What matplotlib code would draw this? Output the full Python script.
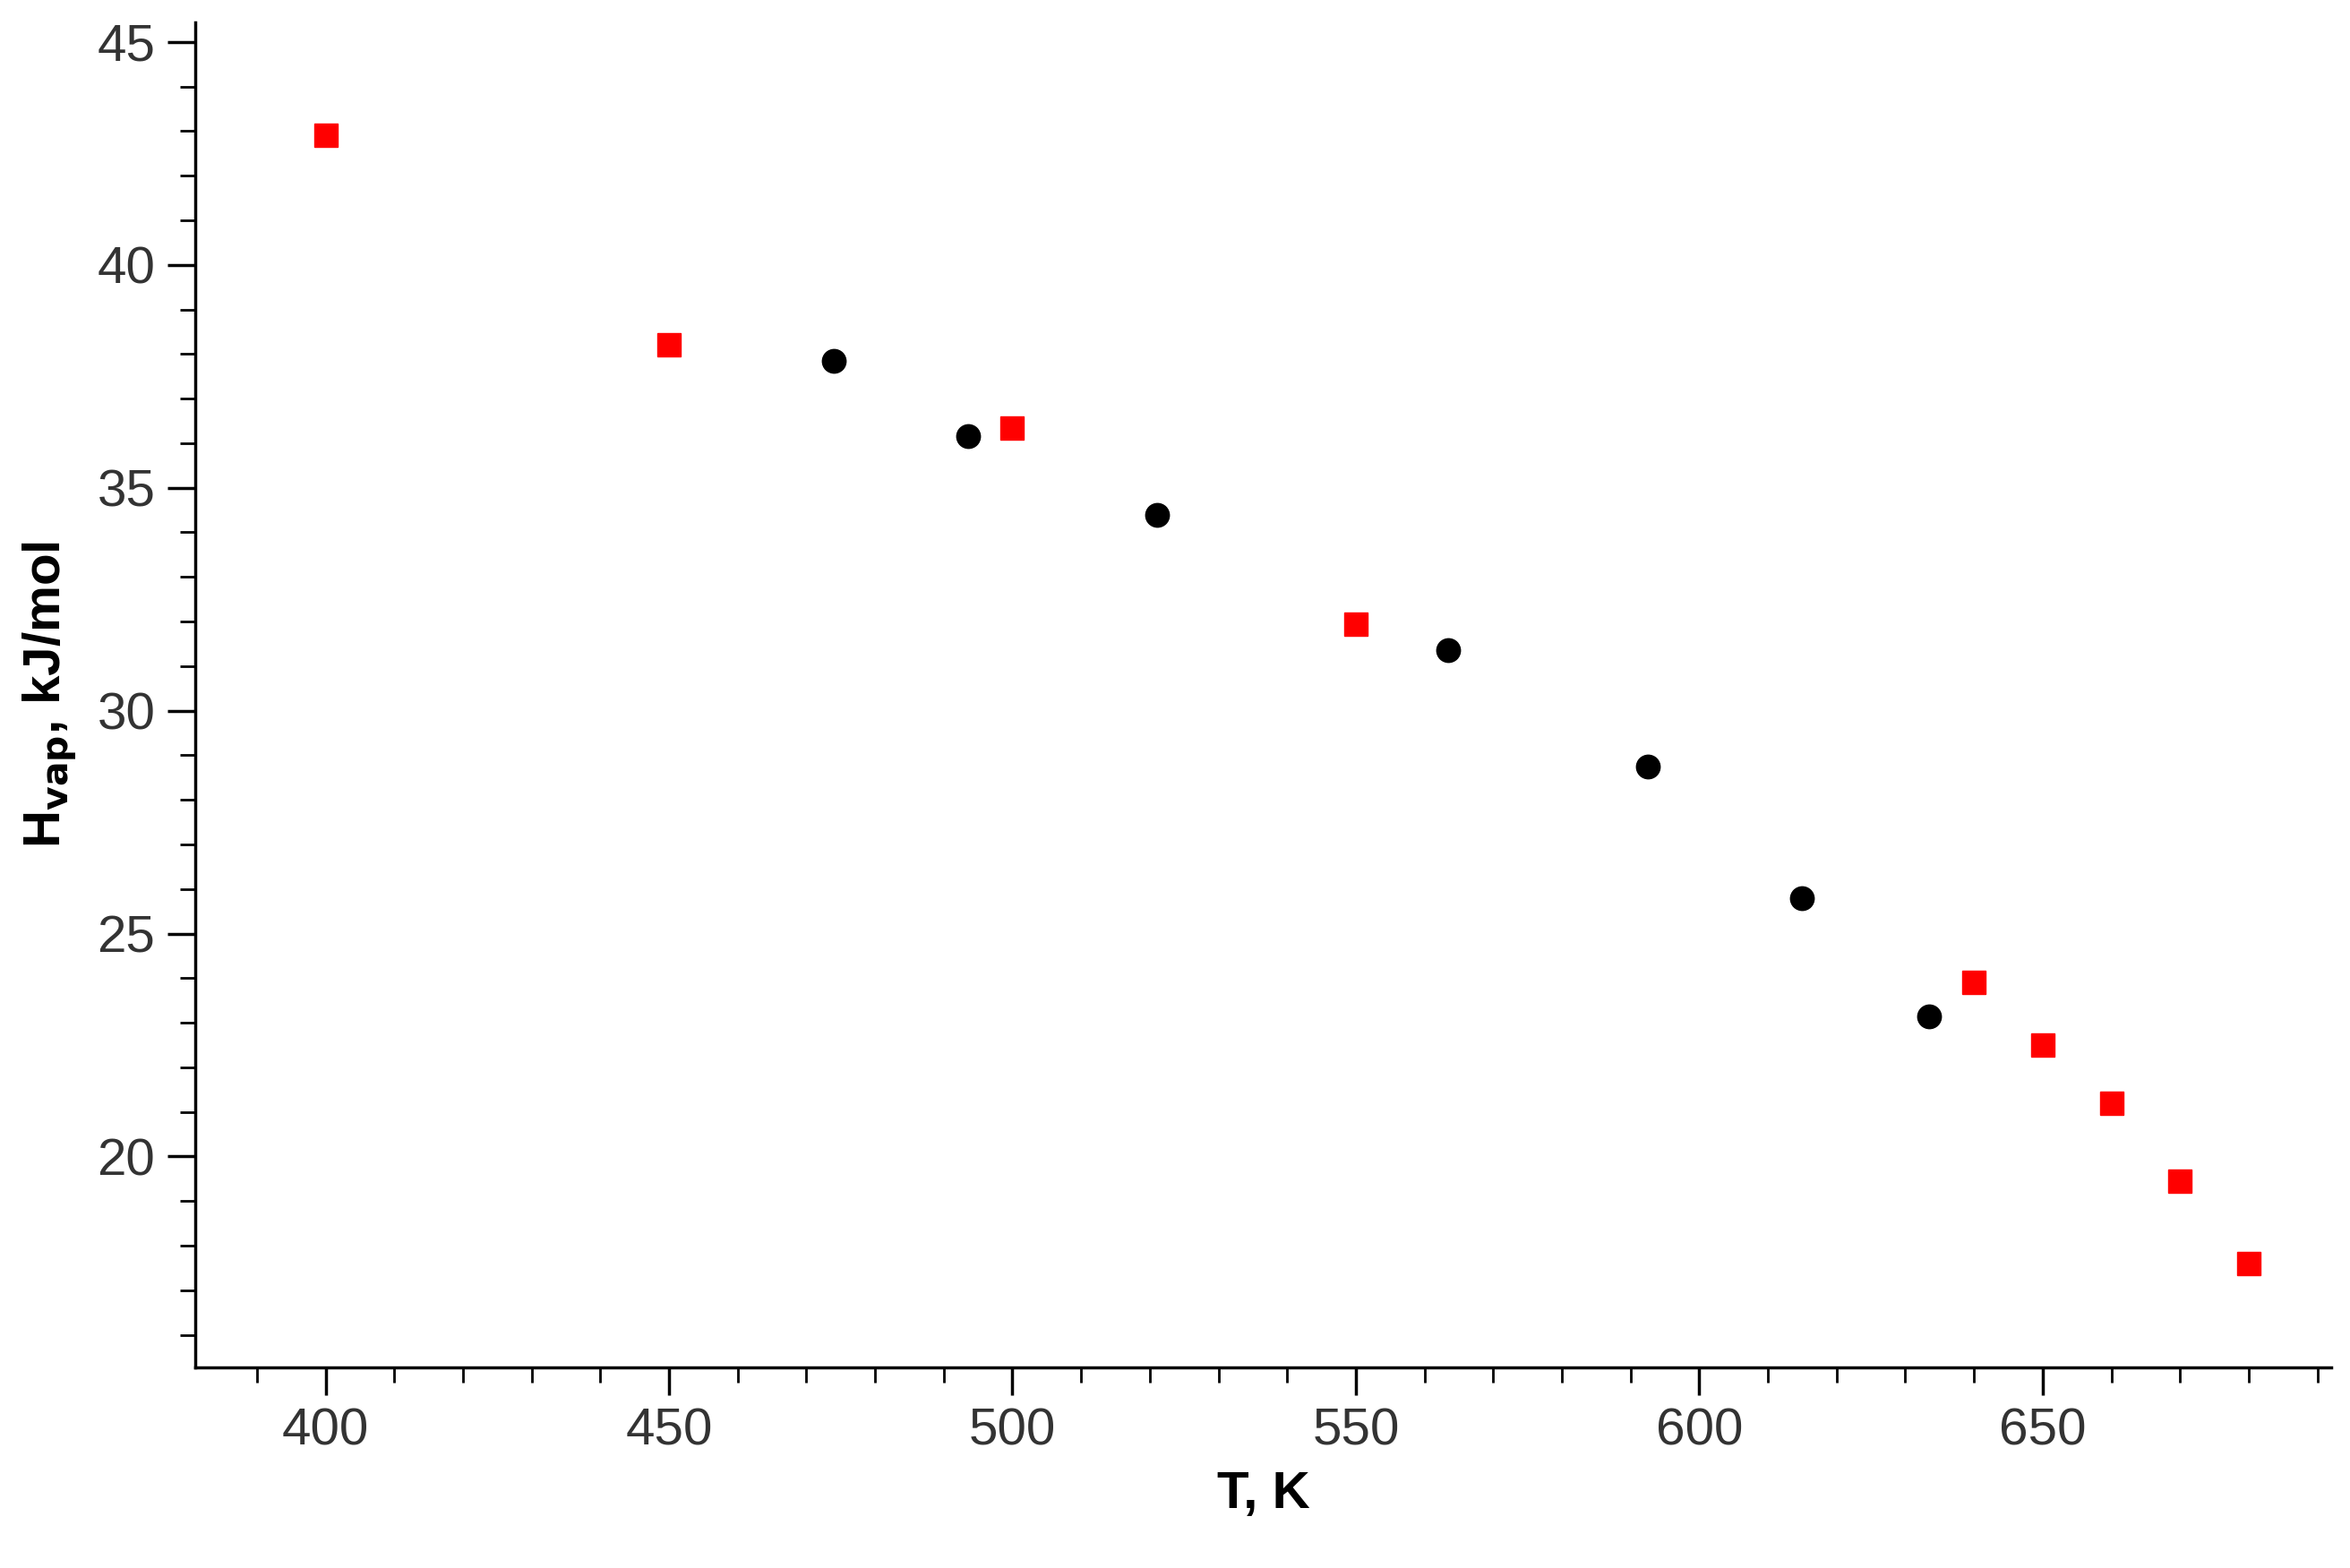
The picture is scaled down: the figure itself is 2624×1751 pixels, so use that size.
import matplotlib
matplotlib.use("Agg")
import matplotlib.pyplot as plt
from matplotlib.ticker import MultipleLocator

plt.rcParams["font.family"] = ["Liberation Sans", "DejaVu Sans"]

# red squares
t_sq = [400, 450, 500, 550, 640, 650, 660, 670, 680]
h_sq = [42.9, 38.2, 36.35, 31.95, 23.9, 22.5, 21.2, 19.45, 17.6]
# black circles
t_ci = [474, 493.5, 521, 563.5, 592.5, 615, 633.5]
h_ci = [37.85, 36.15, 34.4, 31.35, 28.75, 25.8, 23.15]

fig = plt.figure(figsize=(26.24, 17.51), dpi=100)
ax = fig.add_axes([0.083, 0.128, 0.909, 0.858])

ax.plot(t_sq, h_sq, "s", color="#ff0000", markersize=19, linestyle="none")
ax.plot(t_ci, h_ci, "o", color="black", markersize=19, linestyle="none")

ax.set_xlim(381, 692)
ax.set_ylim(15.27, 45.45)
ax.xaxis.set_major_locator(MultipleLocator(50))
ax.xaxis.set_minor_locator(MultipleLocator(10))
ax.yaxis.set_major_locator(MultipleLocator(5))
ax.yaxis.set_minor_locator(MultipleLocator(1))

for s in ("top", "right"):
    ax.spines[s].set_visible(False)
for s in ("left", "bottom"):
    ax.spines[s].set_linewidth(2.5)

ax.tick_params(which="major", direction="out", length=22, width=2.5,
               labelsize=42, labelcolor="#333333", pad=10)
ax.tick_params(which="minor", direction="out", length=12, width=2)

ax.set_xlabel("T, K", fontsize=42, fontweight="bold", labelpad=12)
ax.set_ylabel(r"H$_\mathbf{vap}$, kJ/mol", fontsize=42, fontweight="bold", labelpad=14)

fig.savefig("out.png", dpi=100)
